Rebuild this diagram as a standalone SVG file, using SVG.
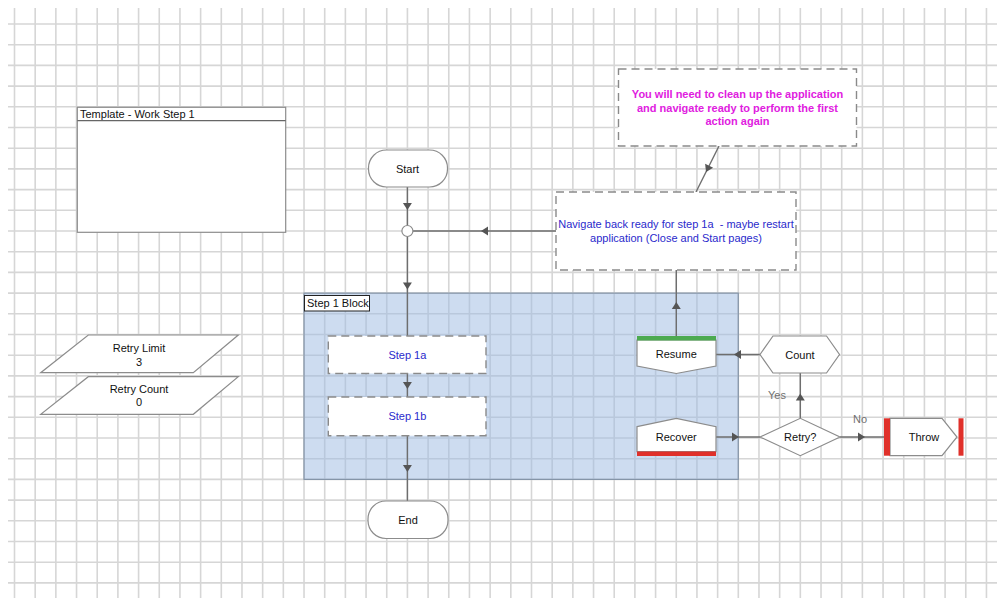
<svg xmlns="http://www.w3.org/2000/svg" xmlns:xlink="http://www.w3.org/1999/xlink" width="1000" height="603" viewBox="0 0 1000 603">
<style>
.grid{stroke:#d6d6d6;stroke-width:1.6;fill:none}
.shape{fill:#fff;stroke:#8c8c8c;stroke-width:1.2}
.note{fill:#fff;stroke:#8a8a8a;stroke-width:1.4;stroke-dasharray:8 5}
.conn{stroke:#6e6e6e;stroke-width:1.4;fill:none}
.ah{fill:#555}
text{font-family:"Liberation Sans",Arial,sans-serif;font-size:11px;fill:#111}
.c{text-anchor:middle}
.blue{fill:#2a2acc}
.mag{fill:#e020e0;font-weight:bold}
.lbl{fill:#707070}
.red{fill:#e0302a}
.green{fill:#4caa50}
</style>
<defs>
<path id="ah" d="M0,0 L-7,-4.5 L-7,4.5 Z"/>
</defs>
<rect width="1000" height="603" fill="#fff"/>
<path class="grid" d="M14.5 8V598M35.18 8V598M55.86 8V598M76.54 8V598M97.22 8V598M117.9 8V598M138.58 8V598M159.26 8V598M179.94 8V598M200.62 8V598M221.3 8V598M241.98 8V598M262.66 8V598M283.34 8V598M304.02 8V598M324.7 8V598M345.38 8V598M366.06 8V598M386.74 8V598M407.42 8V598M428.1 8V598M448.78 8V598M469.46 8V598M490.14 8V598M510.82 8V598M531.5 8V598M552.18 8V598M572.86 8V598M593.54 8V598M614.22 8V598M634.9 8V598M655.58 8V598M676.26 8V598M696.94 8V598M717.62 8V598M738.3 8V598M758.98 8V598M779.66 8V598M800.34 8V598M821.02 8V598M841.7 8V598M862.38 8V598M883.06 8V598M903.74 8V598M924.42 8V598M945.1 8V598M965.78 8V598M986.46 8V598
M8 24H997M8 44.7H997M8 65.4H997M8 86.1H997M8 106.8H997M8 127.5H997M8 148.2H997M8 168.9H997M8 189.6H997M8 210.3H997M8 231H997M8 251.7H997M8 272.4H997M8 293.1H997M8 313.8H997M8 334.5H997M8 355.2H997M8 375.9H997M8 396.6H997M8 417.3H997M8 438H997M8 458.7H997M8 479.4H997M8 500.1H997M8 520.8H997M8 541.5H997M8 562.2H997M8 582.9H997"/>

<g id="block">
<rect x="304" y="293.1" width="434.3" height="186.3" fill="#9bb9e1" fill-opacity="0.5" stroke="#8595a8" stroke-width="1.2"/>
<rect x="304.5" y="295.5" width="65" height="15.5" fill="#fff" stroke="#222" stroke-width="1"/>
<text x="307" y="307">Step 1 Block</text>
</g>

<g id="connectors">
<path class="conn" d="M407.4 187V225.5M407.4 236.5V336M407.4 373.5V397M407.4 435.7V501"/>
<path class="conn" d="M556 231H413"/>
<path class="conn" d="M676.3 336V270"/>
<path class="conn" d="M760 354.5H716"/>
<path class="conn" d="M716 437H760"/>
<path class="conn" d="M800.3 418.3V373"/>
<path class="conn" d="M840 437H884"/>
<path class="conn" d="M719 146L696 192"/>
<use href="#ah" class="ah" transform="translate(407.4,210) rotate(90)"/>
<use href="#ah" class="ah" transform="translate(481,231) rotate(180)"/>
<use href="#ah" class="ah" transform="translate(407.4,289.5) rotate(90)"/>
<use href="#ah" class="ah" transform="translate(407.4,389) rotate(90)"/>
<use href="#ah" class="ah" transform="translate(407.4,472) rotate(90)"/>
<use href="#ah" class="ah" transform="translate(676.3,302) rotate(-90)"/>
<use href="#ah" class="ah" transform="translate(734,354.5) rotate(180)"/>
<use href="#ah" class="ah" transform="translate(739,437)"/>
<use href="#ah" class="ah" transform="translate(800.3,393.5) rotate(-90)"/>
<use href="#ah" class="ah" transform="translate(865,437)"/>
<use href="#ah" class="ah" transform="translate(706,172) rotate(116.6)"/>
<text class="lbl" x="786" y="398.5" text-anchor="end">Yes</text>
<text class="lbl" x="853" y="423">No</text>
</g>

<g id="template">
<rect class="shape" x="77.3" y="107.3" width="208.4" height="125" stroke="#666"/>
<path d="M77.3 120.7H285.7" stroke="#666" stroke-width="1.2"/>
<text x="80" y="118">Template - Work Step 1</text>
</g>

<g id="start">
<rect class="shape" x="368.5" y="150" width="79" height="37" rx="18"/>
<text class="c" x="407.5" y="172.5">Start</text>
</g>

<g id="junction">
<circle class="shape" cx="407.4" cy="231" r="5.5" stroke="#6e6e6e"/>
</g>

<g id="note-cleanup">
<rect class="note" x="618.5" y="69" width="238" height="77"/>
<text class="c mag" x="737.5" y="98">You will need to clean up the application</text>
<text class="c mag" x="737.5" y="111.5">and navigate ready to perform the first</text>
<text class="c mag" x="737.5" y="125">action again</text>
</g>

<g id="note-navigate">
<rect class="note" x="556" y="192" width="240" height="78"/>
<text class="c blue" x="676" y="228">Navigate back ready for step 1a&#160; - maybe restart</text>
<text class="c blue" x="676" y="241.5">application (Close and Start pages)</text>
</g>

<g id="step1a">
<rect class="note" x="328.3" y="336" width="157.7" height="37.5"/>
<text class="c blue" x="407.4" y="358.5">Step 1a</text>
</g>

<g id="step1b">
<rect class="note" x="328.3" y="397" width="157.7" height="38.7"/>
<text class="c blue" x="407.4" y="420">Step 1b</text>
</g>

<g id="end">
<rect class="shape" x="368" y="501" width="80" height="37.5" rx="18"/>
<text class="c" x="408" y="523.5">End</text>
</g>

<g id="resume">
<path class="shape" d="M637 340H716V366L676.3 373.5L637 366Z"/>
<rect class="green" x="637" y="336" width="79" height="4.5"/>
<text class="c" x="676.3" y="358">Resume</text>
</g>

<g id="recover">
<path class="shape" d="M637 426.7L676.3 418.3L716 426.7V451.7H637Z"/>
<rect class="red" x="637" y="451.5" width="79" height="4.5"/>
<text class="c" x="676.3" y="441">Recover</text>
</g>

<g id="count">
<path class="shape" d="M760 354.5L773 336H826.5L839.5 354.5L826.5 373H773Z"/>
<text class="c" x="800" y="358.5">Count</text>
</g>

<g id="retry">
<path class="shape" d="M760 437L800.3 418.3L840 437L800.3 455.7Z"/>
<text class="c" x="800.3" y="441">Retry?</text>
</g>

<g id="throw">
<path class="shape" d="M890 418.3H942L957 437L942 455.7H890Z"/>
<rect class="red" x="884" y="418.3" width="6" height="37.4"/>
<rect class="red" x="958.5" y="418.3" width="5" height="37.4"/>
<text class="c" x="924" y="441">Throw</text>
</g>

<g id="retry-limit">
<path class="shape" d="M88.3 335H238.3L193.3 372.7H40.7Z"/>
<text class="c" x="139" y="352">Retry Limit</text>
<text class="c" x="139" y="366">3</text>
</g>

<g id="retry-count">
<path class="shape" d="M88.3 376.7H238.3L193.3 414.3H40.7Z"/>
<text class="c" x="139" y="393">Retry Count</text>
<text class="c" x="139" y="406">0</text>
</g>
</svg>
